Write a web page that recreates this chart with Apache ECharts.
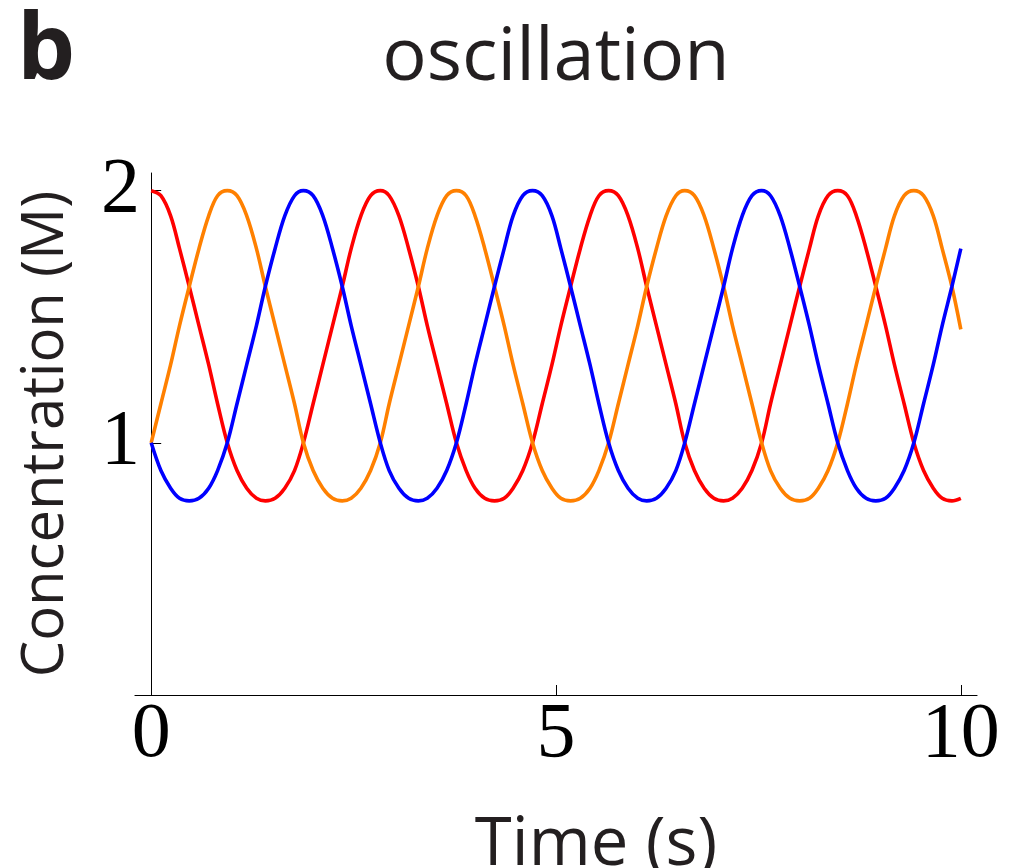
<!DOCTYPE html>
<html>
<head>
<meta charset="utf-8">
<title>oscillation</title>
<script src="https://cdn.jsdelivr.net/npm/echarts@6/dist/echarts.min.js"></script>
<style>
  html, body { margin: 0; padding: 0; background: #fff; }
  #chart { width: 1015px; height: 868px; }
</style>
</head>
<body>
<div id="chart"></div>
<script>
// 时间点 (s)，大约每 0.118 s 读一次图
const times = [
  0, 0.12, 0.24, 0.35, 0.47, 0.59, 0.71, 0.82, 0.94, 1.06, 1.18, 1.30,
  1.41, 1.53, 1.65, 1.77, 1.88, 2.00, 2.12, 2.24, 2.36, 2.47, 2.59, 2.71,
  2.83, 2.94, 3.06, 3.18, 3.30, 3.41, 3.53, 3.65, 3.77, 3.89, 4.00, 4.12,
  4.24, 4.36, 4.47, 4.59, 4.71, 4.83, 4.95, 5.06, 5.18, 5.30, 5.42, 5.53,
  5.65, 5.77, 5.89, 6.01, 6.12, 6.24, 6.36, 6.48, 6.59, 6.71, 6.83, 6.95,
  7.07, 7.18, 7.30, 7.42, 7.54, 7.65, 7.77, 7.89, 8.01, 8.13, 8.24, 8.36,
  8.48, 8.60, 8.71, 8.83, 8.95, 9.07, 9.18, 9.30, 9.42, 9.54, 9.66, 9.77,
  9.89, 10.0
]
// 浓度 (M)
const redValues = [
  2.0, 1.98, 1.90, 1.77, 1.62, 1.465, 1.31, 1.155, 1.0, 0.89, 0.82, 0.78,
  0.77, 0.78, 0.82, 0.89, 1.0, 1.155, 1.31, 1.465, 1.62, 1.77, 1.90, 1.98,
  2.0, 1.98, 1.90, 1.77, 1.62, 1.465, 1.31, 1.155, 1.0, 0.89, 0.82, 0.78,
  0.77, 0.78, 0.82, 0.89, 1.0, 1.155, 1.31, 1.465, 1.62, 1.77, 1.90, 1.98,
  2.0, 1.98, 1.90, 1.77, 1.62, 1.465, 1.31, 1.155, 1.0, 0.89, 0.82, 0.78,
  0.77, 0.78, 0.82, 0.89, 1.0, 1.155, 1.31, 1.465, 1.62, 1.77, 1.90, 1.98,
  2.0, 1.98, 1.90, 1.77, 1.62, 1.465, 1.31, 1.155, 1.0, 0.89, 0.82, 0.78,
  0.77, 0.78
]
const orangeValues = [
  1.0, 1.155, 1.31, 1.465, 1.62, 1.77, 1.90, 1.98, 2.0, 1.98, 1.90, 1.77,
  1.62, 1.465, 1.31, 1.155, 1.0, 0.89, 0.82, 0.78, 0.77, 0.78, 0.82, 0.89,
  1.0, 1.155, 1.31, 1.465, 1.62, 1.77, 1.90, 1.98, 2.0, 1.98, 1.90, 1.77,
  1.62, 1.465, 1.31, 1.155, 1.0, 0.89, 0.82, 0.78, 0.77, 0.78, 0.82, 0.89,
  1.0, 1.155, 1.31, 1.465, 1.62, 1.77, 1.90, 1.98, 2.0, 1.98, 1.90, 1.77,
  1.62, 1.465, 1.31, 1.155, 1.0, 0.89, 0.82, 0.78, 0.77, 0.78, 0.82, 0.89,
  1.0, 1.155, 1.31, 1.465, 1.62, 1.77, 1.90, 1.98, 2.0, 1.98, 1.90, 1.77,
  1.62, 1.45
]
const blueValues = [
  1.0, 0.89, 0.82, 0.78, 0.77, 0.78, 0.82, 0.89, 1.0, 1.155, 1.31, 1.465,
  1.62, 1.77, 1.90, 1.98, 2.0, 1.98, 1.90, 1.77, 1.62, 1.465, 1.31, 1.155,
  1.0, 0.89, 0.82, 0.78, 0.77, 0.78, 0.82, 0.89, 1.0, 1.155, 1.31, 1.465,
  1.62, 1.77, 1.90, 1.98, 2.0, 1.98, 1.90, 1.77, 1.62, 1.465, 1.31, 1.155,
  1.0, 0.89, 0.82, 0.78, 0.77, 0.78, 0.82, 0.89, 1.0, 1.155, 1.31, 1.465,
  1.62, 1.77, 1.90, 1.98, 2.0, 1.98, 1.90, 1.77, 1.62, 1.465, 1.31, 1.155,
  1.0, 0.89, 0.82, 0.78, 0.77, 0.78, 0.82, 0.89, 1.0, 1.155, 1.31, 1.465,
  1.62, 1.77
]
const xTicks = [0, 5, 10]
const yTicks = [1, 2]

const textColor = '#231f20'
const sansFont = '"Open Sans", "Noto Sans", sans-serif'
const serifFont = '"Liberation Serif", "DejaVu Serif", serif'

function toPairs (values) {
  return times.map((t, i) => [t, values[i]])
}

function makeLine (name, values, color) {
  return {
    name: name,
    type: 'line',
    data: toPairs(values),
    smooth: 0.35,
    showSymbol: false,
    symbol: 'none',
    lineStyle: { color: color, width: 3.6 },
    animation: false
  }
}

const chart = echarts.init(document.getElementById('chart'), null, { renderer: 'canvas' })

const option = {
  backgroundColor: '#fff',
  animation: false,
  title: [
    {
      text: 'b',
      left: 12,
      top: 2,
      textStyle: { fontFamily: sansFont, fontWeight: 'bold', fontSize: 92, color: textColor }
    },
    {
      text: 'oscillation',
      left: 551,
      top: 17,
      textAlign: 'center',
      textStyle: { fontFamily: sansFont, fontWeight: 'normal', fontSize: 74, color: textColor }
    }
  ],
  grid: {
    left: 135,
    right: 38,
    top: 173,
    bottom: 173,
    containLabel: false,
    outerBoundsMode: 'none'
  },
  xAxis: {
    type: 'value',
    min: -0.2,
    max: 10.2,
    name: 'Time (s)',
    nameLocation: 'middle',
    nameGap: 117,
    nameTextStyle: {
      fontFamily: sansFont,
      fontSize: 67,
      color: textColor,
      padding: [0, 0, 0, 80]
    },
    axisLine: { show: true, onZero: false, lineStyle: { color: '#000', width: 1.2 } },
    axisTick: { show: true, inside: true, length: 10, customValues: xTicks, lineStyle: { color: '#000', width: 1 } },
    axisLabel: {
      show: true,
      customValues: xTicks,
      margin: 2,
      fontFamily: serifFont,
      fontSize: 78,
      color: '#000'
    },
    splitLine: { show: false }
  },
  yAxis: {
    type: 'value',
    min: 0,
    max: 2.07,
    name: 'Concentration (M)',
    nameLocation: 'middle',
    nameGap: 60,
    nameTextStyle: {
      fontFamily: sansFont,
      fontSize: 58,
      color: textColor
    },
    axisLine: { show: true, onZero: true, lineStyle: { color: '#000', width: 1 } },
    axisTick: { show: true, inside: true, length: 10, customValues: yTicks, lineStyle: { color: '#000', width: 1 } },
    axisLabel: {
      show: true,
      customValues: yTicks,
      margin: -5,
      padding: [0, 0, 16, 0],
      fontFamily: serifFont,
      fontSize: 78,
      color: '#000'
    },
    splitLine: { show: false }
  },
  series: [
    makeLine('red', redValues, '#ff0000'),
    makeLine('orange', orangeValues, '#ff8000'),
    makeLine('blue', blueValues, '#0000ff')
  ]
}

chart.setOption(option)
</script>
</body>
</html>
